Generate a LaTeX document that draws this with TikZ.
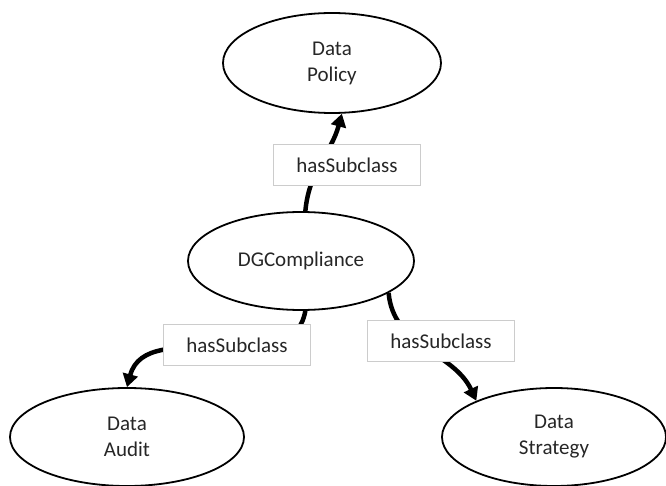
\documentclass[tikz,border=0pt]{standalone}
\usepackage{fontspec}
\setmainfont{Carlito}
\usetikzlibrary{shapes.geometric, arrows.meta}
\definecolor{txtgray}{HTML}{262626}
\definecolor{boxgray}{HTML}{CCCCCC}

\begin{document}
\begin{tikzpicture}[x=1pt, y=-1pt,
  cls/.style={draw, ellipse, line width=1.8pt, inner sep=0pt, align=center, text=txtgray, font=\fontsize{21}{26}\selectfont},
  lbl/.style={draw=boxgray, line width=1pt, fill=white, minimum width=147pt, minimum height=41pt, text=txtgray, font=\fontsize{21}{26}\selectfont},
  rel/.style={line width=4.5pt, -{Triangle[length=13pt, width=15pt]}},
  >=Stealth]
  \useasboundingbox (0,0) rectangle (666,486);
  \node[cls, minimum width=218pt, minimum height=100pt] (policy) at (332,63) {Data\\Policy};
  \node[cls, minimum width=226pt, minimum height=98pt] (compliance) at (301,261) {DGCompliance};
  \node[cls, minimum width=234pt, minimum height=98pt] (audit) at (127,437) {Data\\Audit};
  \node[cls, minimum width=224pt, minimum height=98pt] (strategy) at (554,437) {Data\\Strategy};
  \draw[rel] (compliance.85) to[out=85, in=-105] (policy.281);
  \draw[rel] (compliance.275) to[out=-100, in=75] (audit.90);
  \draw[rel] (compliance.-20) to[out=-85, in=115] (strategy.155);
  \node[lbl] (l1) at (347,165) {hasSubclass};
  \node[lbl] (l2) at (237,345) {hasSubclass};
  \node[lbl] (l3) at (441,341) {hasSubclass};
\end{tikzpicture}
\end{document}
